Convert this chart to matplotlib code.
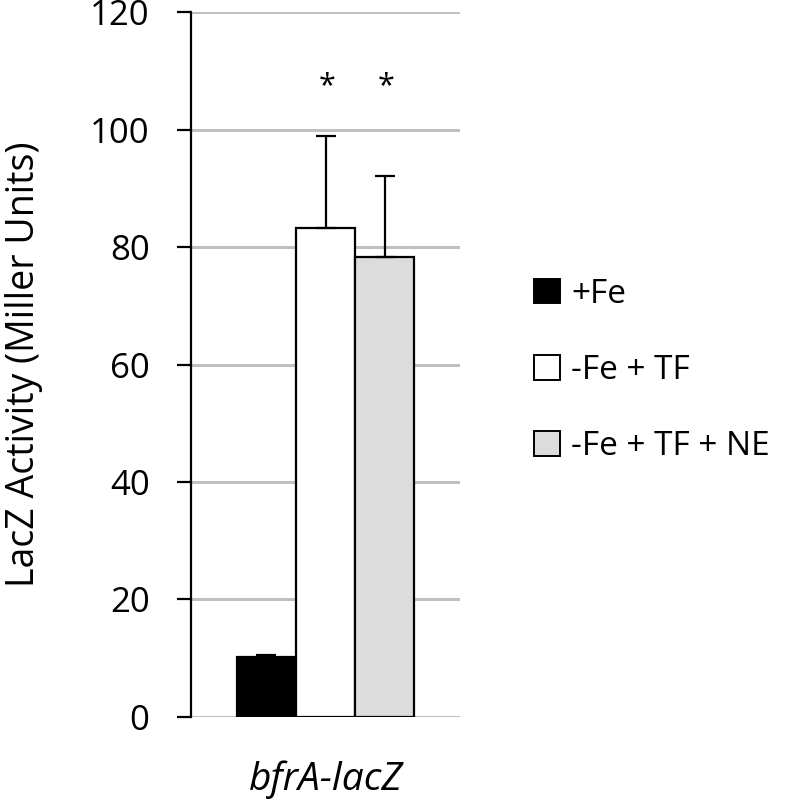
import matplotlib.pyplot as plt
from matplotlib.patches import Patch

# data
conditions = ['+Fe', '-Fe + TF', '-Fe + TF + NE']
activity = [10.2, 83.2, 78.3]
errors = [0.4, 15.7, 13.8]
colors = ['black', 'white', '#dcdcdc']
marks = ['', '*', '*']
group_label = 'bfrA-lacZ'

plt.rcParams['font.family'] = ['Open Sans', 'DejaVu Sans']

fig = plt.figure(figsize=(8, 8.02), dpi=100)
ax = fig.add_axes([0.239, 0.106, 0.336, 0.879])

width = 0.22
offsets = [-width, 0, width]
for i in range(len(conditions)):
	ax.bar(offsets[i], activity[i], width=width, color=colors[i], edgecolor='black',
		linewidth=1.6, zorder=3)
	ax.errorbar(offsets[i], activity[i], yerr=[[0], [errors[i]]], fmt='none',
		ecolor='black', elinewidth=1.6, capsize=7.5, capthick=1.6, zorder=4)
	if marks[i]:
		ax.text(offsets[i] + 0.005, 107.4, marks[i], ha='center', va='center',
			fontsize=22)

ax.set_xlim(-0.5, 0.5)
ax.set_ylim(0, 120)
ax.set_yticks(range(0, 121, 20))
ax.set_xticks([0])
ax.set_xticklabels([group_label], style='italic', fontsize=28)
ax.tick_params(axis='x', length=0, pad=31)
ax.tick_params(axis='y', labelsize=25, length=10, width=1.6, direction='out', pad=20)
ax.grid(True, axis='y', color='#c0c0c0', linewidth=2.2, zorder=0)
ax.set_axisbelow(True)
for side in ['top', 'right', 'bottom']:
	ax.spines[side].set_visible(False)
ax.spines['left'].set_linewidth(1.6)
ax.set_ylabel('LacZ Activity (Miller Units)', fontsize=27, labelpad=34)

handles = [Patch(facecolor=colors[i], edgecolor='black', linewidth=1.4, label=conditions[i])
	for i in range(len(conditions))]
fig.legend(handles=handles, loc='center left', bbox_to_anchor=(0.630, 0.538),
	frameon=False, fontsize=24, handlelength=0.79, handleheight=0.76,
	handletextpad=0.33, labelspacing=1.3)

fig.savefig('out.png', dpi=100)
